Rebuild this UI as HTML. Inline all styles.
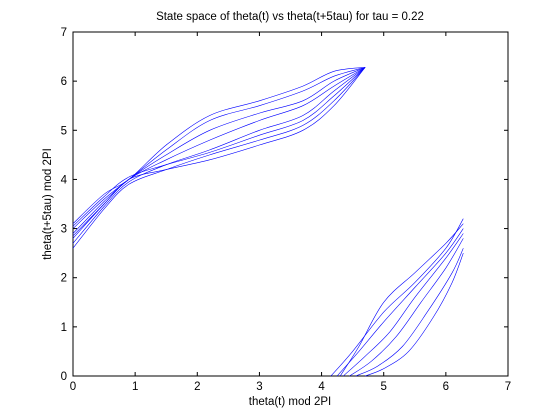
<!DOCTYPE html>
<html><head><meta charset="utf-8"><style>
body{margin:0;background:#fff}
svg{display:block;font-family:"Liberation Sans",Arial,sans-serif}
</style></head><body>
<svg id="chart" width="560" height="420">
<rect x="0" y="0" width="560" height="420" fill="#fff"/>
<rect x="73" y="32" width="435" height="344" fill="#fff" stroke="#000" stroke-width="1"/>
<g id="series"></g>
<g id="axes"></g>
<text x="290" y="20" font-size="11.5" text-anchor="middle">State space of theta(t) vs theta(t+5tau) for tau = 0.22</text>
<text x="290" y="405" font-size="11.5" text-anchor="middle">theta(t) mod 2PI</text>
<text x="51" y="204" font-size="11.5" text-anchor="middle" transform="rotate(-90 51 204)">theta(t+5tau) mod 2PI</text>
</svg>
<script>
const xTicks=[0,1,2,3,4,5,6,7];
const yTicks=[0,1,2,3,4,5,6,7];
const upperX=[0,0.5,0.9,1.5,2.2,3,3.7,4.2,4.7];
const upperCurves=[
[3.1,3.7,4.0,4.7,5.3,5.6,5.9,6.2,6.28],
[3.0,3.6,4.0,4.6,5.2,5.5,5.8,6.1,6.28],
[2.9,3.55,4.0,4.5,5.0,5.35,5.6,6.0,6.28],
[2.8,3.5,4.0,4.4,4.8,5.2,5.5,5.9,6.28],
[2.7,3.45,3.95,4.3,4.6,5.0,5.3,5.8,6.28],
[2.6,3.4,3.9,4.2,4.5,4.8,5.1,5.6,6.28],
[3.05,3.65,4.05,4.3,4.55,4.9,5.2,5.7,6.28],
[2.85,3.5,4.0,4.2,4.4,4.7,5.0,5.5,6.28]
];
const lowerCurves=[
[[4.15,0],[4.5,0.5],[5,1.3],[5.5,1.9],[6.0,2.6],[6.28,3.2]],
[[4.25,0],[4.6,0.5],[5,1.1],[5.5,1.8],[6,2.5],[6.28,3.0]],
[[4.35,0],[4.7,0.4],[5.1,0.9],[5.5,1.6],[6,2.4],[6.28,2.9]],
[[4.45,0],[4.8,0.3],[5.2,0.8],[5.6,1.5],[6,2.2],[6.28,2.8]],
[[4.55,0],[4.9,0.2],[5.3,0.6],[5.7,1.3],[6.1,2.1],[6.28,2.6]],
[[4.7,0],[5.0,0.15],[5.4,0.5],[5.8,1.2],[6.1,1.9],[6.28,2.5]],
[[4.3,0],[4.6,0.6],[5,1.5],[5.5,2.1],[6,2.7],[6.28,3.1]]
];
const X0=73,X1=508,Y0=376,Y1=32;
const sx=v=>X0+(X1-X0)*v/7;
const sy=v=>Y0-(Y0-Y1)*v/7;
const NS="http://www.w3.org/2000/svg";
function pathFrom(pts){
  const p=pts.map(a=>[sx(a[0]),sy(a[1])]);
  let d="M"+p[0][0].toFixed(1)+","+p[0][1].toFixed(1);
  for(let i=0;i<p.length-1;i++){
    const a=p[i-1]||p[i],b=p[i],c=p[i+1],e=p[i+2]||c;
    const c1=[b[0]+(c[0]-a[0])/6,b[1]+(c[1]-a[1])/6];
    const c2=[c[0]-(e[0]-b[0])/6,c[1]-(e[1]-b[1])/6];
    d+=" C"+c1.map(v=>v.toFixed(1))+" "+c2.map(v=>v.toFixed(1))+" "+c[0].toFixed(1)+","+c[1].toFixed(1);
  }
  return d;
}
const g=document.getElementById('series');
upperCurves.forEach((ys,i)=>{
  const el=document.createElementNS(NS,'path');
  el.setAttribute('d',pathFrom(ys.map((y,j)=>[upperX[j],y])));
  el.setAttribute('fill','none');el.setAttribute('stroke','#0000ff');el.setAttribute('stroke-width','0.6');
  
  
  g.appendChild(el);
});
lowerCurves.forEach((pts,i)=>{
  const el=document.createElementNS(NS,'path');
  el.setAttribute('d',pathFrom(pts));
  el.setAttribute('fill','none');el.setAttribute('stroke','#0000ff');el.setAttribute('stroke-width','0.6');
  
  
  g.appendChild(el);
});
const ax=document.getElementById('axes');
xTicks.forEach(t=>{
  const x=sx(t);
  for(const [ya,yb] of [[Y0,Y0-4],[Y1,Y1+4]]){
    const l=document.createElementNS(NS,'line');
    l.setAttribute('x1',x);l.setAttribute('x2',x);l.setAttribute('y1',ya);l.setAttribute('y2',yb);l.setAttribute('stroke','#000');
    
    
    ax.appendChild(l);
  }
  const tx=document.createElementNS(NS,'text');
  tx.setAttribute('x',x);tx.setAttribute('y',Y0+14);tx.setAttribute('font-size','11.5');tx.setAttribute('text-anchor','middle');
  tx.textContent=t;
  
  
  ax.appendChild(tx);
});
yTicks.forEach(t=>{
  const y=sy(t);
  for(const [xa,xb] of [[X0,X0+4],[X1,X1-4]]){
    const l=document.createElementNS(NS,'line');
    l.setAttribute('x1',xa);l.setAttribute('x2',xb);l.setAttribute('y1',y);l.setAttribute('y2',y);l.setAttribute('stroke','#000');
    
    
    ax.appendChild(l);
  }
  const tx=document.createElementNS(NS,'text');
  tx.setAttribute('x',X0-6);tx.setAttribute('y',y+4);tx.setAttribute('font-size','11.5');tx.setAttribute('text-anchor','end');
  tx.textContent=t;
  
  
  ax.appendChild(tx);
});
</script>
</body></html>
